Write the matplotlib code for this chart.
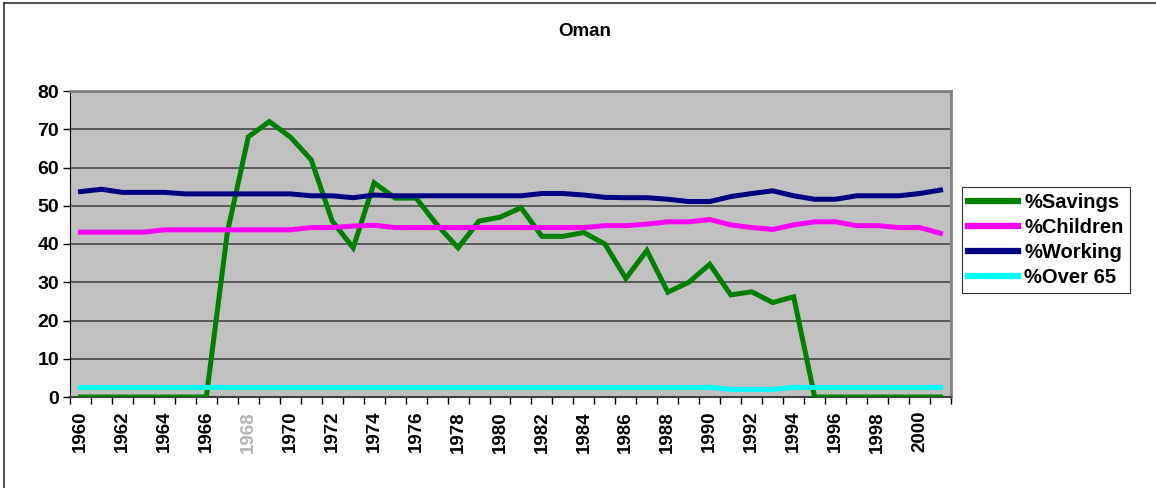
import matplotlib
matplotlib.use("Agg")
import matplotlib.pyplot as plt
from matplotlib.lines import Line2D

plt.rcParams['font.family'] = ['Liberation Sans', 'DejaVu Sans']

years = list(range(1960, 2002))

savings = [0, 0, 0, 0, 0, 0, 0, 43, 68, 72, 68, 62, 46, 39,
           56, 52, 52, 45, 39, 46, 47, 49.5, 42, 42, 43, 40, 31,
           38.3, 27.4, 30, 34.7, 26.7, 27.5, 24.7, 26.2,
           0, 0, 0, 0, 0, 0, 0]
children = [43.1, 43.1, 43.1, 43.1, 43.7, 43.7, 43.7, 43.7, 43.7, 43.7, 43.7,
            44.3, 44.3, 44.7, 44.9, 44.3, 44.3, 44.3, 44.3, 44.3, 44.3, 44.3,
            44.3, 44.3, 44.3, 44.8, 44.8, 45.2, 45.8, 45.8, 46.4, 45.0, 44.3,
            43.8, 45.0, 45.8, 45.8, 44.8, 44.8, 44.3, 44.3, 42.8]
working = [53.7, 54.3, 53.5, 53.5, 53.5, 53.1, 53.1, 53.1, 53.1, 53.1, 53.1,
           52.6, 52.6, 52.1, 52.8, 52.6, 52.6, 52.6, 52.6, 52.6, 52.6, 52.6,
           53.2, 53.2, 52.8, 52.2, 52.1, 52.1, 51.7, 51.1, 51.1, 52.4, 53.2,
           53.9, 52.6, 51.7, 51.7, 52.6, 52.6, 52.6, 53.2, 54.1]
over65 = [2.5] * 31 + [2.0, 2.0, 2.0] + [2.5] * 8

series_names = ['%Savings', '%Children', '%Working', '%Over 65']
series_colors = ['#008000', '#FF00FF', '#000080', '#00FFFF']

fig = plt.figure(figsize=(11.56, 4.88), dpi=100)
ax = fig.add_axes([70 / 1156, 1 - 397 / 488, (951 - 70) / 1156, (397 - 91) / 488])
ax.set_facecolor('#C0C0C0')

x = list(range(len(years)))
for vals, name, col in zip([savings, children, working, over65], series_names, series_colors):
    ax.plot(x, vals, color=col, lw=3.6, label=name, solid_joinstyle='miter', zorder=3)

ax.set_xlim(-0.5, len(years) - 0.5)
ax.set_ylim(0, 80)
ax.set_yticks(range(0, 81, 10))
ax.yaxis.grid(True, color='#5a5a5a', lw=1.4, zorder=1)
ax.set_axisbelow(True)
for lab in ax.get_yticklabels():
    lab.set_fontweight('bold')
ax.tick_params(axis='y', labelsize=14, length=5, width=1, direction='out', pad=3)

# boundary ticks, labels every second year centred under point
ax.set_xticks([i - 0.5 for i in range(len(years) + 1)])
ax.set_xticklabels([])
ax.tick_params(axis='x', which='major', length=5, width=1, direction='out')
ax.set_xticks(x[::2], minor=True)
ax.set_xticklabels([str(y) for y in years[::2]], minor=True, rotation=90,
                   fontweight='bold', fontsize=13.5)
ax.tick_params(axis='x', which='minor', length=0, pad=10)
for lab in ax.get_xticklabels(minor=True):
    if lab.get_text() == '1968':
        lab.set_color('#b4b4b4')

for s in ['top', 'right']:
    ax.spines[s].set_color('#808080')
    ax.spines[s].set_linewidth(2)
ax.spines['left'].set_color('black')
ax.spines['bottom'].set_color('#404040')
ax.spines['bottom'].set_linewidth(1.5)

fig.text(585 / 1156, 1 - 32 / 488, 'Oman', ha='center', va='center',
         fontsize=13.5, fontweight='bold')

leg = ax.legend(loc='upper left', bbox_to_anchor=(962 / 1156, 1 - 187 / 488),
                bbox_transform=fig.transFigure, frameon=True, fancybox=False,
                edgecolor='black', prop={'weight': 'bold', 'size': 14.5},
                handlelength=2.5, handletextpad=0.3, labelspacing=0.3,
                borderpad=0.3, borderaxespad=0)
leg.get_frame().set_linewidth(0.8)
for h in leg.get_lines():
    h.set_linewidth(4.5)

# outer chart border (top and left visible)
fig.add_artist(Line2D([4 / 1156, 4 / 1156], [0, 1 - 3 / 488], color='#303030', lw=1.2,
                      transform=fig.transFigure))
fig.add_artist(Line2D([4 / 1156, 1], [1 - 3 / 488, 1 - 3 / 488], color='#303030', lw=1.2,
                      transform=fig.transFigure))

fig.savefig('out.png', dpi=100)
